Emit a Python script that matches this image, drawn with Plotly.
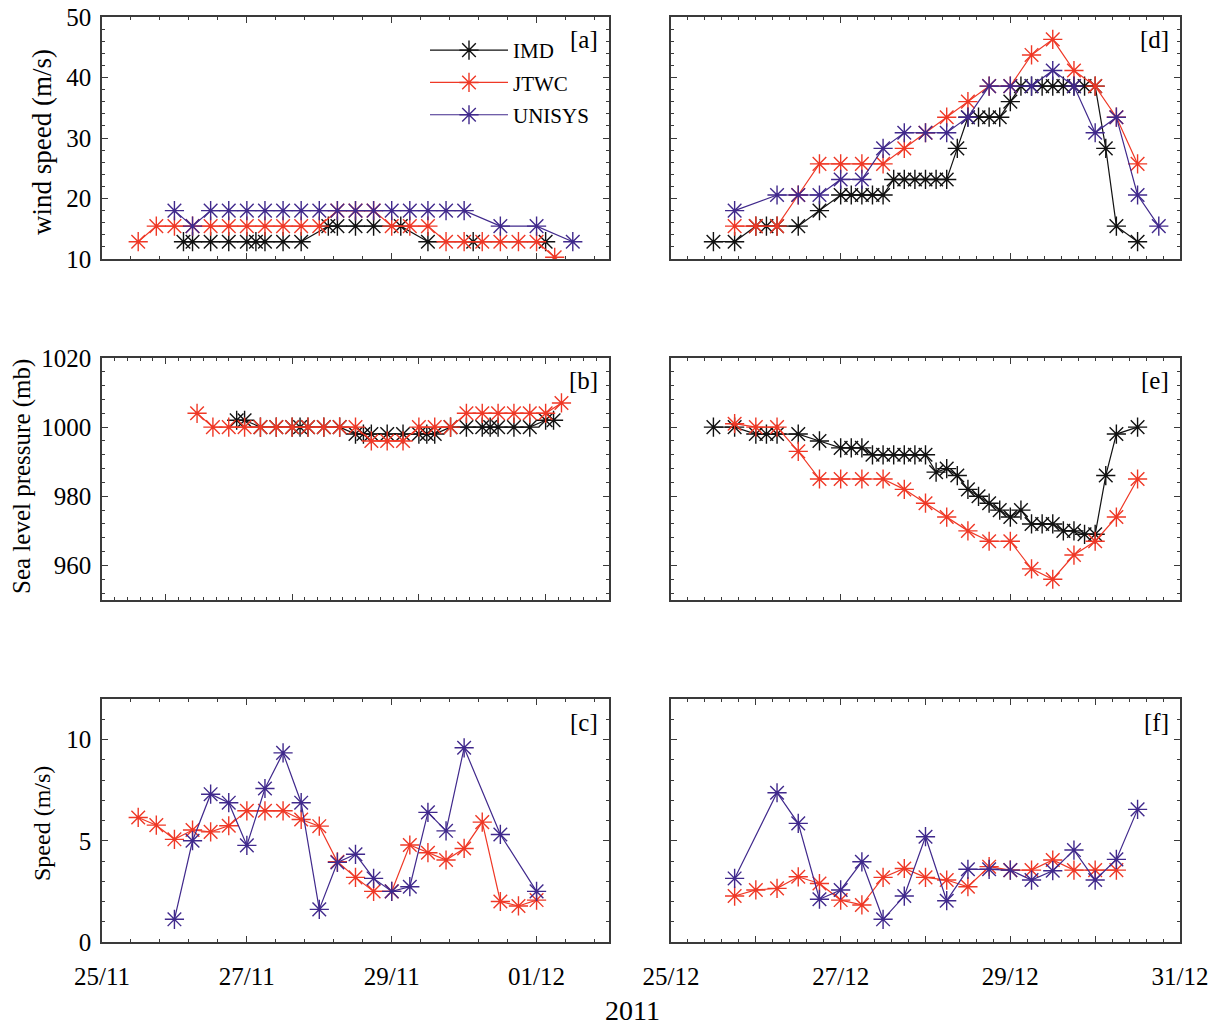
import plotly.graph_objects as go

# ---------------- data (time = days since 25/11 00 UTC for left column, since 25/12 00 UTC for right column)
a_imd_t = [1.125, 1.25, 1.5, 1.75, 2.0, 2.125, 2.25, 2.5, 2.75, 3.125, 3.25, 3.5, 3.75, 4.125, 4.5, 5.125, 6.125]
a_imd_v = [12.86, 12.86, 12.86, 12.86, 12.86, 12.86, 12.86, 12.86, 12.86, 15.43, 15.43, 15.43, 15.43, 15.43, 12.86, 12.86, 12.86]
a_jtwc_t = [0.5, 0.75, 1.0, 1.25, 1.5, 1.75, 2.0, 2.25, 2.5, 2.75, 3.0, 3.25, 3.5, 3.75, 4.0, 4.25, 4.5, 4.75, 5.0, 5.25, 5.5, 5.75, 6.0, 6.25]
a_jtwc_v = [12.86, 15.43, 15.43, 15.43, 15.43, 15.43, 15.43, 15.43, 15.43, 15.43, 15.43, 18.0, 18.0, 18.0, 15.43, 15.43, 15.43, 12.86, 12.86, 12.86, 12.86, 12.86, 12.86, 10.29]
a_unisys_t = [1.0, 1.25, 1.5, 1.75, 2.0, 2.25, 2.5, 2.75, 3.0, 3.25, 3.5, 3.75, 4.0, 4.25, 4.5, 4.75, 5.0, 5.5, 6.0, 6.5]
a_unisys_v = [18.0, 15.43, 18.0, 18.0, 18.0, 18.0, 18.0, 18.0, 18.0, 18.0, 18.0, 18.0, 18.0, 18.0, 18.0, 18.0, 18.0, 15.43, 15.43, 12.86]

b_imd_t = [1.125, 1.25, 1.5, 1.75, 2.0, 2.125, 2.25, 2.5, 2.75, 3.0, 3.125, 3.25, 3.5, 3.75, 4.0, 4.125, 4.25, 4.5, 4.75, 5.0, 5.125, 5.25, 5.5, 5.75, 6.0, 6.125]
b_imd_v = [1002, 1002, 1000, 1000, 1000, 1000, 1000, 1000, 1000, 998, 998, 998, 998, 998, 998, 998, 998, 1000, 1000, 1000, 1000, 1000, 1000, 1000, 1002, 1002]
b_jtwc_t = [0.5, 0.75, 1.0, 1.25, 1.5, 1.75, 2.0, 2.25, 2.5, 2.75, 3.0, 3.25, 3.5, 3.75, 4.0, 4.25, 4.5, 4.75, 5.0, 5.25, 5.5, 5.75, 6.0, 6.25]
b_jtwc_v = [1004, 1000, 1000, 1000, 1000, 1000, 1000, 1000, 1000, 1000, 1000, 996, 996, 996, 1000, 1000, 1000, 1004, 1004, 1004, 1004, 1004, 1004, 1007]

c_jtwc_t = [0.5, 0.75, 1.0, 1.25, 1.5, 1.75, 2.0, 2.25, 2.5, 2.75, 3.0, 3.25, 3.5, 3.75, 4.0, 4.25, 4.5, 4.75, 5.0, 5.25, 5.5, 5.75, 6.0]
c_jtwc_v = [6.15, 5.77, 5.07, 5.53, 5.44, 5.74, 6.48, 6.48, 6.48, 6.05, 5.72, 3.96, 3.19, 2.5, 2.5, 4.79, 4.41, 4.05, 4.62, 5.92, 2.0, 1.78, 2.07]
c_unisys_t = [1.0, 1.25, 1.5, 1.75, 2.0, 2.25, 2.5, 2.75, 3.0, 3.25, 3.5, 3.75, 4.0, 4.25, 4.5, 4.75, 5.0, 5.5, 6.0]
c_unisys_v = [1.12, 5.0, 7.30, 6.88, 4.77, 7.58, 9.34, 6.88, 1.61, 3.93, 4.33, 3.14, 2.5, 2.73, 6.40, 5.49, 9.59, 5.31, 2.5]

d_imd_t = [0.5, 0.75, 1.0, 1.125, 1.25, 1.5, 1.75, 2.0, 2.125, 2.25, 2.375, 2.5, 2.625, 2.75, 2.875, 3.0, 3.125, 3.25,
           3.375, 3.5, 3.625, 3.75, 3.875, 4.0, 4.125, 4.25, 4.375, 4.5, 4.625, 4.75, 4.875, 5.0, 5.125, 5.25, 5.5]
d_imd_v = [12.86, 12.86, 15.43, 15.43, 15.43, 15.43, 18.0, 20.58, 20.58, 20.58, 20.58, 20.58, 23.15, 23.15, 23.15, 23.15, 23.15, 23.15,
           28.29, 33.44, 33.44, 33.44, 33.44, 36.01, 38.58, 38.58, 38.58, 38.58, 38.58, 38.58, 38.58, 38.58, 28.29, 15.43, 12.86]
d_jtwc_t = [0.75, 1.0, 1.25, 1.5, 1.75, 2.0, 2.25, 2.5, 2.75, 3.0, 3.25, 3.5, 3.75, 4.0, 4.25, 4.5, 4.75, 5.0, 5.25, 5.5]
d_jtwc_v = [15.43, 15.43, 15.43, 20.58, 25.72, 25.72, 25.72, 25.72, 28.29, 30.87, 33.44, 36.01, 38.58, 38.58, 43.73, 46.30, 41.16, 38.58, 33.44, 25.72]
d_unisys_t = [0.75, 1.25, 1.5, 1.75, 2.0, 2.25, 2.5, 2.75, 3.0, 3.25, 3.5, 3.75, 4.0, 4.25, 4.5, 4.75, 5.0, 5.25, 5.5, 5.75]
d_unisys_v = [18.0, 20.58, 20.58, 20.58, 23.15, 23.15, 28.29, 30.87, 30.87, 30.87, 33.44, 38.58, 38.58, 38.58, 41.16, 38.58, 30.87, 33.44, 20.58, 15.43]

e_imd_t = [0.5, 0.75, 1.0, 1.125, 1.25, 1.5, 1.75, 2.0, 2.125, 2.25, 2.375, 2.5, 2.625, 2.75, 2.875, 3.0, 3.125, 3.25,
           3.375, 3.5, 3.625, 3.75, 3.875, 4.0, 4.125, 4.25, 4.375, 4.5, 4.625, 4.75, 4.875, 5.0, 5.125, 5.25, 5.5]
e_imd_v = [1000, 1000, 998, 998, 998, 998, 996, 994, 994, 994, 992, 992, 992, 992, 992, 992, 987, 988,
           986, 982, 980, 978, 976, 974, 976, 972, 972, 972, 970, 970, 969, 969, 986, 998, 1000]
e_jtwc_t = [0.75, 1.0, 1.25, 1.5, 1.75, 2.0, 2.25, 2.5, 2.75, 3.0, 3.25, 3.5, 3.75, 4.0, 4.25, 4.5, 4.75, 5.0, 5.25, 5.5]
e_jtwc_v = [1001, 1000, 1000, 993, 985, 985, 985, 985, 982, 978, 974, 970, 967, 967, 959, 956, 963, 967, 974, 985]

f_jtwc_t = [0.75, 1.0, 1.25, 1.5, 1.75, 2.0, 2.25, 2.5, 2.75, 3.0, 3.25, 3.5, 3.75, 4.0, 4.25, 4.5, 4.75, 5.0, 5.25]
f_jtwc_v = [2.27, 2.57, 2.65, 3.22, 2.89, 2.07, 1.83, 3.19, 3.63, 3.19, 3.06, 2.73, 3.72, 3.55, 3.55, 4.05, 3.55, 3.55, 3.55]
f_unisys_t = [0.75, 1.25, 1.5, 1.75, 2.0, 2.25, 2.5, 2.75, 3.0, 3.25, 3.5, 3.75, 4.0, 4.25, 4.5, 4.75, 5.0, 5.25, 5.5]
f_unisys_v = [3.14, 7.37, 5.86, 2.11, 2.57, 3.96, 1.12, 2.27, 5.2, 2.04, 3.59, 3.59, 3.55, 3.06, 3.52, 4.54, 3.06, 4.08, 6.55]

left_ticks = [0, 2, 4, 6]
left_labels = ["25/11", "27/11", "29/11", "01/12"]
right_ticks = [0, 1, 2, 3, 4, 5, 6]
right_labels = ["25/12", "", "27/12", "", "29/12", "", "31/12"]

series_names = ["IMD", "JTWC", "UNISYS"]
series_colors = {"IMD": "#111111", "JTWC": "#ef3826", "UNISYS": "#40298c"}

# ---------------- figure
W, H = 1212, 1025
FONT = "Liberation Serif"
fig = go.Figure()

def px_x(a, b):
    return [a / W, b / W]

def px_y(top, bottom):
    return [1 - bottom / H, 1 - top / H]

xdom_left = px_x(102, 609)
xdom_right = px_x(671, 1180)
ydom = [px_y(17, 259), px_y(358, 600), px_y(699, 942)]

panels = [
    ("a", 1, "L", 0, [("IMD", a_imd_t, a_imd_v), ("JTWC", a_jtwc_t, a_jtwc_v), ("UNISYS", a_unisys_t, a_unisys_v)]),
    ("b", 2, "L", 1, [("IMD", b_imd_t, b_imd_v), ("JTWC", b_jtwc_t, b_jtwc_v)]),
    ("c", 3, "L", 2, [("JTWC", c_jtwc_t, c_jtwc_v), ("UNISYS", c_unisys_t, c_unisys_v)]),
    ("d", 4, "R", 0, [("IMD", d_imd_t, d_imd_v), ("JTWC", d_jtwc_t, d_jtwc_v), ("UNISYS", d_unisys_t, d_unisys_v)]),
    ("e", 5, "R", 1, [("IMD", e_imd_t, e_imd_v), ("JTWC", e_jtwc_t, e_jtwc_v)]),
    ("f", 6, "R", 2, [("JTWC", f_jtwc_t, f_jtwc_v), ("UNISYS", f_unisys_t, f_unisys_v)]),
]

for key, idx, col, row, series in panels:
    xa = "x" if idx == 1 else f"x{idx}"
    ya = "y" if idx == 1 else f"y{idx}"
    for name, t, v in series:
        fig.add_trace(go.Scatter(
            x=t, y=v, mode="lines+markers", name=name,
            legendgroup=name, showlegend=(key == "a"),
            line=dict(color=series_colors[name], width=1.2),
            marker=dict(symbol="asterisk-open", size=16,
                        line=dict(color=series_colors[name], width=1.4)),
            xaxis=xa, yaxis=ya,
        ))

axis_common = dict(
    showline=True, linecolor="#3a3a3a", linewidth=1.5, mirror="ticks",
    ticks="inside", ticklen=6, tickwidth=1, tickcolor="#3a3a3a",
    showgrid=False, zeroline=False, automargin=False,
    tickfont=dict(family=FONT, size=25, color="black"),
    minor=dict(ticks="inside", ticklen=3, tickwidth=1, tickcolor="#3a3a3a", showgrid=False),
)

layout = {}
for key, idx, col, row, series in panels:
    xname = "xaxis" if idx == 1 else f"xaxis{idx}"
    yname = "yaxis" if idx == 1 else f"yaxis{idx}"
    anchor_y = "y" if idx == 1 else f"y{idx}"
    anchor_x = "x" if idx == 1 else f"x{idx}"
    xa = dict(axis_common)
    ya = dict(axis_common)
    xa["domain"] = xdom_left if col == "L" else xdom_right
    xa["anchor"] = anchor_y
    ya["domain"] = ydom[row]
    ya["anchor"] = anchor_x
    if col == "L":
        if key == "b":
            xa["range"] = [-1, 7]
            xa["minor"] = dict(axis_common["minor"], dtick=0.2, tick0=0)
        else:
            xa["range"] = [0, 7]
            xa["minor"] = dict(axis_common["minor"], dtick=0.4, tick0=0)
        xa["tickmode"] = "array"
        xa["tickvals"] = left_ticks
        xa["ticktext"] = left_labels
    else:
        xa["range"] = [0, 6]
        xa["minor"] = dict(axis_common["minor"], dtick=0.2, tick0=0)
        xa["tickmode"] = "array"
        xa["tickvals"] = right_ticks
        xa["ticktext"] = right_labels
    xa["showticklabels"] = (row == 2)
    xa["ticklabelstandoff"] = 11
    if row == 0:
        ya["range"] = [10, 50]
        ya["tickmode"] = "array"
        ya["tickvals"] = [10, 20, 30, 40, 50]
        ya["minor"] = dict(axis_common["minor"], dtick=2, tick0=0)
    elif row == 1:
        ya["range"] = [950, 1020]
        ya["tickmode"] = "array"
        ya["tickvals"] = [960, 980, 1000, 1020]
        ya["minor"] = dict(axis_common["minor"], dtick=4, tick0=960)
    else:
        ya["range"] = [0, 12]
        ya["tickmode"] = "array"
        ya["tickvals"] = [0, 5, 10]
        ya["minor"] = dict(axis_common["minor"], dtick=1, tick0=0)
    ya["showticklabels"] = (col == "L")
    ya["ticklabelstandoff"] = 4
    layout[xname] = xa
    layout[yname] = ya

fig.update_layout(**layout)

annotations = []
for key, idx, col, row, series in panels:
    xr = "x domain" if idx == 1 else f"x{idx} domain"
    yr = "y domain" if idx == 1 else f"y{idx} domain"
    annotations.append(dict(text=f"[{key}]", xref=xr, yref=yr, x=0.983, y=0.905,
                            xanchor="right", yanchor="middle", showarrow=False,
                            font=dict(family=FONT, size=25, color="black")))

ytitles = [("wind speed (m/s)", 42, 142, 27), ("Sea level pressure (mb)", 22, 477, 25), ("Speed (m/s)", 42, 824, 24)]
for txt, xp, yp, fs in ytitles:
    annotations.append(dict(text=txt, xref="paper", yref="paper", x=xp / W, y=1 - yp / H,
                            xanchor="center", yanchor="middle", textangle=-90, showarrow=False,
                            font=dict(family=FONT, size=fs, color="black")))
annotations.append(dict(text="2011", xref="paper", yref="paper", x=632 / W, y=1 - 1010 / H,
                        xanchor="center", yanchor="middle", showarrow=False,
                        font=dict(family=FONT, size=28, color="black")))

fig.update_layout(
    width=W, height=H,
    margin=dict(l=0, r=0, t=0, b=0, pad=0, autoexpand=False),
    paper_bgcolor="white", plot_bgcolor="white",
    annotations=annotations,
    showlegend=True,
    legend=dict(x=425 / W, y=1 - 30 / H, xanchor="left", yanchor="top",
                bgcolor="rgba(0,0,0,0)", borderwidth=0,
                font=dict(family=FONT, size=21, color="black"),
                itemwidth=78, tracegroupgap=2, traceorder="grouped"),
)

fig.write_html("out.html")
